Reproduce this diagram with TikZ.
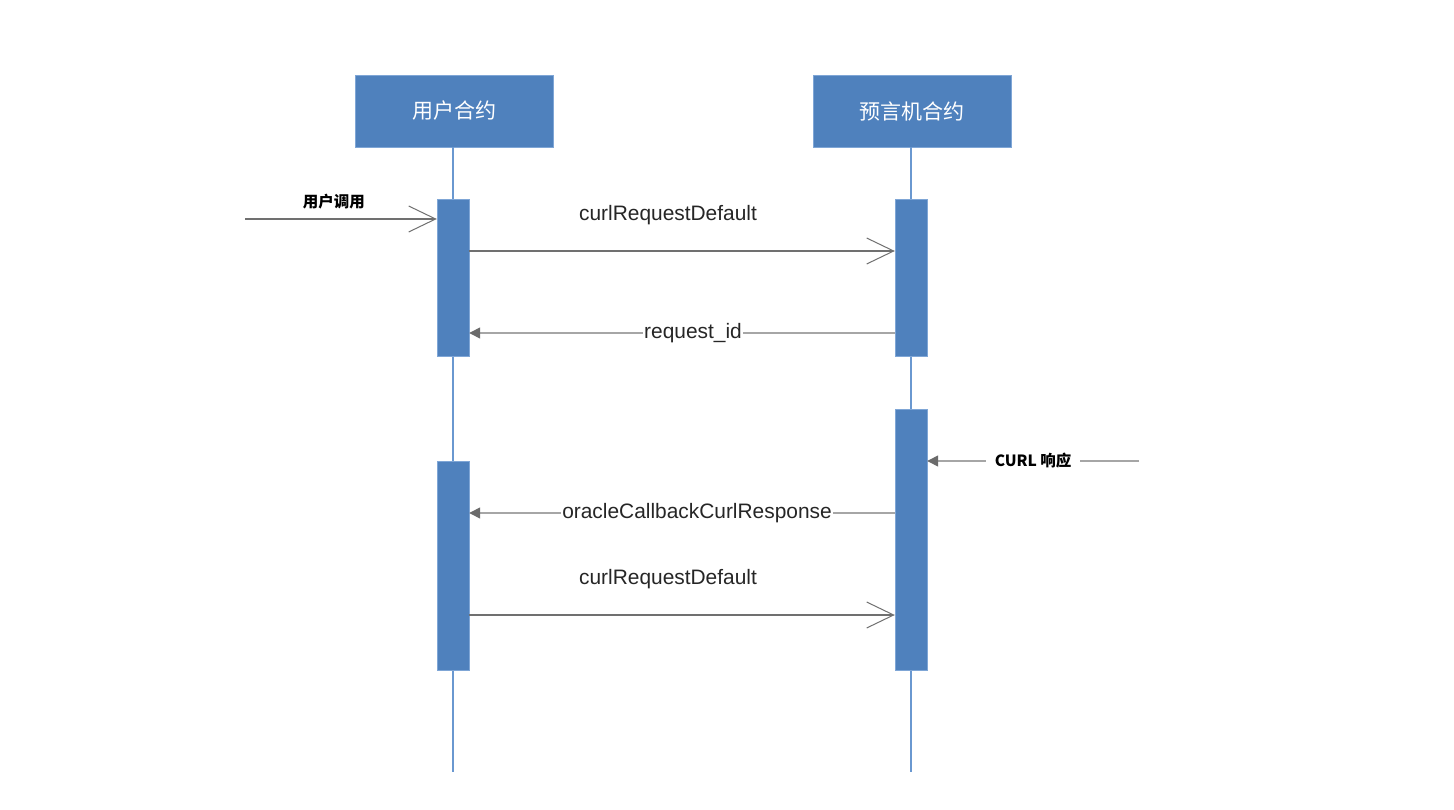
\documentclass[tikz,border=0pt]{standalone}
\usepackage{fontspec}
\setmainfont{Liberation Sans}
\newfontfamily\cjk{Noto Sans CJK SC}
\usetikzlibrary{arrows.meta,positioning}
\definecolor{barblue}{HTML}{4F81BD}
\definecolor{baredge}{HTML}{7FA6D6}
\definecolor{lifeblue}{HTML}{6A98D0}
\definecolor{msggray}{HTML}{707070}
\definecolor{retgray}{HTML}{A6A6A6}
\definecolor{tipgray}{HTML}{6B6B6B}

\begin{document}
\begin{tikzpicture}[x=1pt, y=-1pt,
	head/.style = {draw=baredge, fill=barblue, text=white,
		minimum width = 198pt, minimum height = 72pt,
		font = \cjk\fontsize{21}{25}\selectfont},
	bar/.style = {draw=baredge, fill=barblue,
		minimum width = 32pt, inner sep = 0pt},
	life/.style = {draw=lifeblue, line width = 1.3pt},
	call/.style = {draw=msggray, line width = 1.4pt,
		-{Straight Barb[length=27pt, width=26pt, line width=1pt]}},
	reply/.style = {draw=retgray, line width = 1.4pt,
		-{Triangle[length=11pt, width=11pt, color=tipgray]}},
	msg/.style = {font = \fontsize{20.9}{25}\selectfont, text=black!85},
	note/.style = {font = \cjk\bfseries\fontsize{15.5}{18}\selectfont, text=black}]

	\fill[white] (0,0) rectangle (1454,810);
	\useasboundingbox (0,0) rectangle (1454,810);

	% participants
	\node (user) at (454,111) [head] {用户合约};
	\node (oracle) at (912,111) [head] {预言机合约};

	\coordinate (userend) at (453,772);
	\coordinate (oracleend) at (911,772);
	\draw[life] (user.south -| userend) -- (userend);
	\draw[life] (oracle.south -| oracleend) -- (oracleend);

	% activations
	\node (ua1) at (453,277.5) [bar, minimum height = 157pt] {};
	\node (oa1) at (911,277.5) [bar, minimum height = 157pt] {};
	\node (oa2) at (911,539.5) [bar, minimum height = 261pt] {};
	\node (ua2) at (453,565.5) [bar, minimum height = 209pt] {};

	% messages
	\coordinate (caller) at (245,219);
	\coordinate (m1) at (0,251);
	\coordinate (m2) at (0,333);
	\coordinate (curl) at (1139,461);
	\coordinate (m3) at (0,513);
	\coordinate (m4) at (0,615);

	\draw[call] (caller) -- (ua1.west |- caller)
		node[note, midway, yshift=17pt, xshift=-7pt] {用户调用};
	\draw[call] (ua1.east |- m1) -- (oa1.west |- m1)
		node[msg, midway, yshift=36pt, xshift=-14pt] {curlRequestDefault};
	\draw[reply] (oa1.west |- m2) -- (ua1.east |- m2)
		node[msg, midway, fill=white, inner sep=1pt, xshift=11pt] {request\_id};
	\draw[reply] (curl) -- (oa2.east |- curl)
		node[note, midway, fill=white, inner xsep=9pt] {CURL 响应};
	\draw[reply] (oa2.west |- m3) -- (ua2.east |- m3)
		node[msg, midway, fill=white, inner sep=1pt, xshift=15pt] {oracleCallbackCurlResponse};
	\draw[call] (ua2.east |- m4) -- (oa2.west |- m4)
		node[msg, midway, yshift=36pt, xshift=-14pt] {curlRequestDefault};

\end{tikzpicture}
\end{document}
